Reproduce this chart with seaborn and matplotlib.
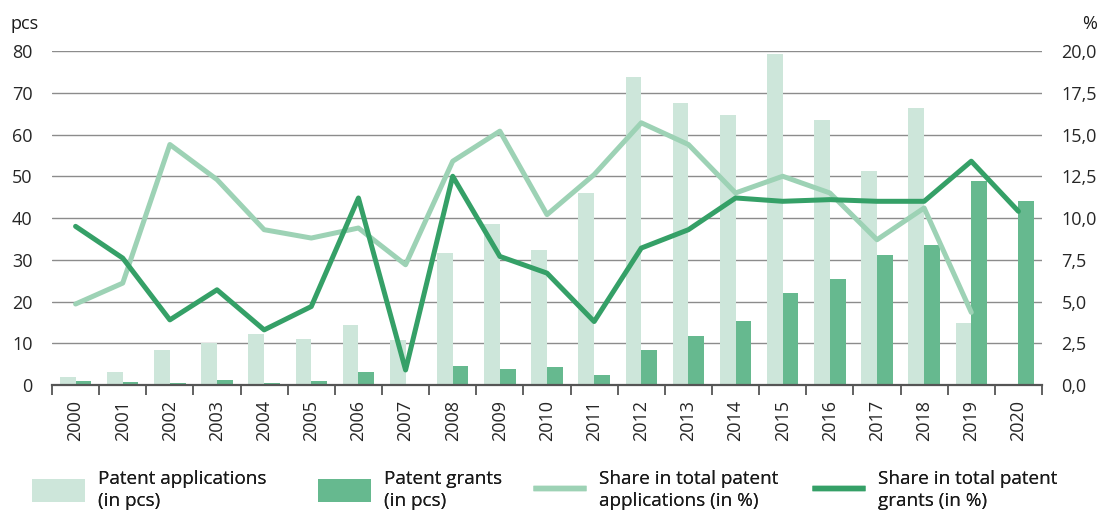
import numpy as np
import pandas as pd
import matplotlib.pyplot as plt
import seaborn as sns
from matplotlib.patches import Patch
from matplotlib.lines import Line2D
from matplotlib.ticker import FuncFormatter, FixedLocator

years = [str(y) for y in range(2000, 2021)]
applications = [1.8, 3.0, 8.3, 10.0, 12.2, 11.0, 14.3, 10.7, 31.6, 38.6, 32.4, 45.9,
                73.8, 67.6, 64.7, 79.2, 63.4, 51.3, 66.3, 14.8, 0.0]
grants = [1.0, 0.8, 0.5, 1.2, 0.5, 1.0, 3.0, 0.2, 4.5, 3.9, 4.2, 2.3,
          8.5, 11.7, 15.3, 22.0, 25.3, 31.1, 33.5, 48.8, 44.1]
share_applications = [4.85, 6.1, 14.4, 12.3, 9.3, 8.8, 9.4, 7.2, 13.4, 15.2, 10.2, 12.6,
                      15.7, 14.4, 11.5, 12.5, 11.5, 8.7, 10.6, 4.35, np.nan]
share_grants = [9.5, 7.6, 3.9, 5.7, 3.3, 4.7, 11.2, 0.9, 12.5, 7.7, 6.7, 3.8,
                8.2, 9.3, 11.2, 11.0, 11.1, 11.0, 11.0, 13.4, 10.4]

legend_labels = ['Patent applications\n(in pcs)', 'Patent grants\n(in pcs)',
                 'Share in total patent\napplications (in %)', 'Share in total patent\ngrants (in %)']

c_app = '#cde6da'
c_grant = '#66b98f'
c_share_app = '#9dd2b5'
c_share_grant = '#35a067'

sns.set_theme(style='white')
plt.rcParams['font.family'] = ['Open Sans', 'DejaVu Sans']
plt.rcParams['text.color'] = '#1a1a1a'

fig = plt.figure(figsize=(11, 5.11), dpi=100)
ax = fig.add_axes([52 / 1100, 1 - 385 / 511, 990 / 1100, 334 / 511])

bars = pd.DataFrame({
    'year': years * 2,
    'value': applications + grants,
    'type': ['Patent applications'] * len(years) + ['Patent grants'] * len(years),
})
sns.barplot(data=bars, x='year', y='value', hue='type', palette=[c_app, c_grant],
            width=0.667, gap=0, saturation=1, legend=False, ax=ax, linewidth=0)

ax.set_ylim(0, 80)
ax.set_xlim(-0.5, len(years) - 0.5)
ax.set_yticks(range(0, 81, 10))
ax.set_axisbelow(True)
ax.yaxis.grid(True, color='#8c8c8c', linewidth=1)
ax.xaxis.grid(False)
ax.set_xlabel('')
ax.set_ylabel('')
for s in ['top', 'left', 'right']:
    ax.spines[s].set_visible(False)
ax.spines['bottom'].set_color('#555555')
ax.spines['bottom'].set_linewidth(1.6)
ax.tick_params(axis='y', length=0, labelsize=13, pad=14)
ax.tick_params(axis='x', which='major', length=0, labelsize=13, rotation=90, pad=11)
ax.xaxis.set_minor_locator(FixedLocator(np.arange(-0.5, len(years), 1)))
ax.tick_params(axis='x', which='minor', bottom=True, length=7, width=1.3, color='#555555')

ax2 = ax.twinx()
pos = np.arange(len(years))
sns.lineplot(x=pos, y=share_applications, color=c_share_app, linewidth=3.6, ax=ax2)
sns.lineplot(x=pos, y=share_grants, color=c_share_grant, linewidth=3.6, ax=ax2)
ax2.set_ylim(0, 20)
ax2.set_xlim(-0.5, len(years) - 0.5)
ax2.set_yticks(np.arange(0, 20.1, 2.5))
ax2.yaxis.set_major_formatter(FuncFormatter(lambda v, p: f'{v:.1f}'.replace('.', ',')))
ax2.tick_params(axis='y', length=0, labelsize=13, pad=14)
ax2.grid(False)
for s in ['top', 'left', 'right', 'bottom']:
    ax2.spines[s].set_visible(False)

fig.text(11 / 1100, 1 - 24 / 511, 'pcs', ha='left', va='center', fontsize=13)
fig.text(1097 / 1100, 1 - 24 / 511, '%', ha='right', va='center', fontsize=13)

handles = [Patch(facecolor=c_app, edgecolor='none'), Patch(facecolor=c_grant, edgecolor='none'),
           Line2D([], [], color=c_share_app, linewidth=3.9, solid_capstyle='butt'),
           Line2D([], [], color=c_share_grant, linewidth=3.9, solid_capstyle='butt')]
starts = [32, 318, 533, 812]
for h, lab, x0 in zip(handles, legend_labels, starts):
    leg = fig.legend([h], [lab], loc='center left', bbox_to_anchor=(x0 / 1100, 1 - 490 / 511),
                     frameon=False, fontsize=13.6, borderpad=0, borderaxespad=0,
                     handlelength=2.8, handleheight=1.53, handletextpad=0.7)
    for t in leg.get_texts():
        t.set_linespacing(1.22)
    fig.add_artist(leg)

fig.savefig('out.png', dpi=100)
